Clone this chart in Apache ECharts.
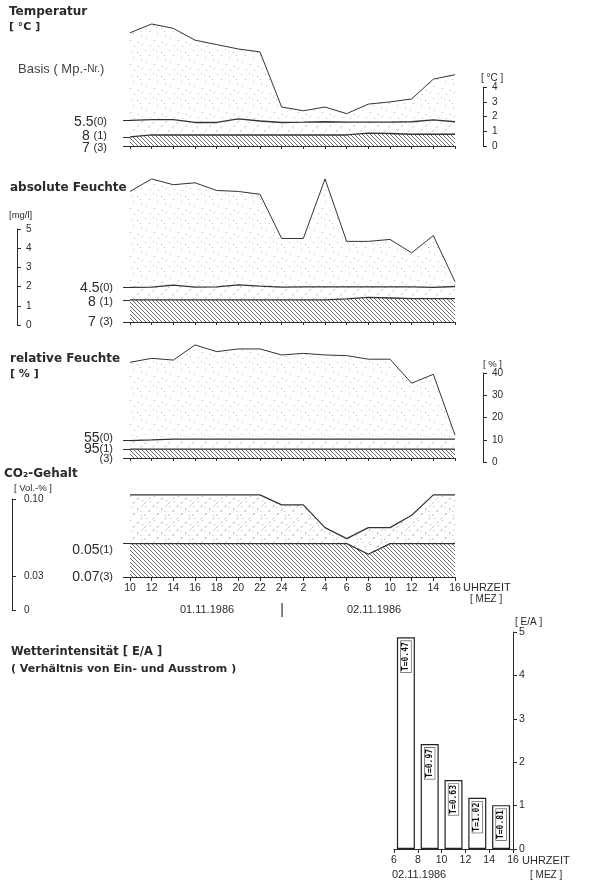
<!DOCTYPE html>
<html><head><meta charset="utf-8">
<script src="https://cdn.jsdelivr.net/npm/echarts@6/dist/echarts.min.js"></script>
<style>html,body{margin:0;padding:0;background:#fff}#c{width:589px;height:883px}</style>
</head><body><div id="c"></div>
<script>
// ---- data ----
const hours = ['10','12','14','16','18','20','22','24','2','4','6','8','10','12','14','16'];
// Temperatur [°C] (offsets above base point 7 (3))
const tempTop = [7.7, 8.3, 8.0, 7.2, 6.9, 6.6, 6.4, 2.65, 2.4, 2.65, 2.2, 2.85, 3.0, 3.2, 4.55, 4.85];
const tempL0  = [1.75, 1.8, 1.8, 1.6, 1.6, 1.85, 1.7, 1.6, 1.62, 1.65, 1.62, 1.62, 1.62, 1.65, 1.78, 1.65];
const tempL1  = [0.62, 0.75, 0.75, 0.75, 0.75, 0.75, 0.75, 0.75, 0.75, 0.75, 0.75, 0.88, 0.85, 0.8, 0.8, 0.8];
// absolute Feuchte [mg/l]
const humTop = [6.8, 7.45, 7.15, 7.25, 6.85, 6.8, 6.65, 4.35, 4.35, 7.45, 4.2, 4.2, 4.3, 3.6, 4.5, 2.1];
const humL0  = [1.8, 1.82, 1.92, 1.82, 1.83, 1.93, 1.87, 1.82, 1.83, 1.83, 1.83, 1.83, 1.83, 1.83, 1.8, 1.85];
const humL1  = [1.15, 1.15, 1.15, 1.15, 1.15, 1.15, 1.15, 1.15, 1.15, 1.15, 1.2, 1.28, 1.25, 1.22, 1.22, 1.22];
// relative Feuchte [%]
const rhTop = [43, 44.8, 44, 50.8, 47.8, 49, 49, 46.3, 47, 46.3, 46, 44.4, 44.4, 33.6, 37.6, 10.3];
const rhL0  = [7.8, 8.1, 8.5, 8.5, 8.5, 8.5, 8.5, 8.5, 8.5, 8.5, 8.5, 8.5, 8.5, 8.5, 8.5, 8.5];
const rhL1  = [4, 4, 4, 4, 4, 4, 4, 4, 4, 4, 4, 4, 4, 4, 4, 4];
// CO2-Gehalt [Vol.-%]
const co2Top = [0.104, 0.104, 0.104, 0.104, 0.104, 0.104, 0.104, 0.095, 0.095, 0.0745, 0.0646, 0.0745, 0.0745, 0.0856, 0.104, 0.104];
const co2L1  = [0.06, 0.06, 0.06, 0.06, 0.06, 0.06, 0.06, 0.06, 0.06, 0.06, 0.06, 0.0505, 0.06, 0.06, 0.06, 0.06];
const co2Base = 0.03;
// Wetterintensität E/A
const barX = [7, 9, 11, 13, 15];
const barVals = [4.88, 2.42, 1.59, 1.18, 1.01];
const barT = ['T=0.47', 'T=0.97', 'T=0.63', 'T=1.02', 'T=0.81'];

// ---- patterns ----
const DOT_TILE = [[1,2],[9,1],[17,4],[5,7],[13,9],[21,11],[2,14],[10,16],[18,18],[6,21],[14,22],[22,20],[20,7],[12,3]];
function pat(kind){
  const c = document.createElement('canvas');
  const s = kind === 'dense' ? 4 : 24;
  c.width = c.height = s;
  const g = c.getContext('2d');
  g.fillStyle = '#fff'; g.fillRect(0,0,s,s);
  if (kind === 'dense') {
    g.strokeStyle = '#5a5a5a'; g.lineWidth = 0.9;
    g.beginPath();
    g.moveTo(-1,-1); g.lineTo(s+1,s+1);
    g.moveTo(-1,s-1); g.lineTo(1,s+1);
    g.moveTo(s-1,-1); g.lineTo(s+1,1);
    g.stroke();
  }
  if (kind === 'dots' || kind === 'co2') {
    g.fillStyle = '#b8b8b8';
    DOT_TILE.forEach(p => g.fillRect(p[0],p[1],1,1));
  }
  if (kind === 'light' || kind === 'co2') {
    g.strokeStyle = '#b5b5b5'; g.lineWidth = 0.8;
    g.setLineDash([3,3]);
    g.beginPath(); g.moveTo(0,12); g.lineTo(12,0); g.moveTo(0,24); g.lineTo(24,0); g.moveTo(12,24); g.lineTo(24,12); g.stroke();
  }
  return {image: c, repeat: 'repeat'};
}
const P_DOTS = pat('dots'), P_LIGHT = pat('light'), P_DENSE = pat('dense'), P_CO2 = pat('co2');

const F = '"Liberation Sans", Arial, sans-serif';
const FB = '"DejaVu Sans", sans-serif';
const INK = '#2a2a2a';

// ---- grids ----
const X0 = 130, XW = 325;
const grids = [
  {left: X0, width: XW, top: 13.7, height: 132.3},   // 0 temp data
  {left: 483, width: 10, top: 87, height: 59},        // 1 temp axis
  {left: X0, width: XW, top: 168.4, height: 153.6},  // 2 hum data
  {left: 17, width: 10, top: 229, height: 96},        // 3 hum axis
  {left: X0, width: XW, top: 335.6, height: 122.4},  // 4 rh data
  {left: 483, width: 10, top: 373, height: 89},       // 5 rh axis
  {left: X0, width: XW, top: 488.2, height: 88.8},   // 6 co2 data
  {left: 12, width: 10, top: 499, height: 111},       // 7 co2 axis
  {left: 394, width: 119, top: 632, height: 217}      // 8 bars
];

function dataX(gi, labels){
  return {gridIndex: gi, type: 'category', data: hours, boundaryGap: false,
    axisLine: {lineStyle: {color: INK, width: 1.2}},
    axisTick: {show: true, length: labels ? 4 : 3, lineStyle: {color: INK}, interval: 0},
    axisLabel: {show: labels, interval: 0, fontFamily: F, fontSize: 10.5, color: INK, margin: 6},
    splitLine: {show: false}};
}
function dataY(gi, min, max, ticks){
  return {gridIndex: gi, type: 'value', min: min, max: max,
    axisLine: {show: false}, splitLine: {show: false}, axisLabel: {show: false},
    axisTick: {show: true, length: 7, customValues: ticks, lineStyle: {color: INK}}};
}
function hidX(gi){ return {gridIndex: gi, type: 'value', show: false, min: 0, max: 1}; }
function sideY(gi, min, max, interval, extra){
  return Object.assign({gridIndex: gi, type: 'value', position: 'left', min: min, max: max, interval: interval,
    axisLine: {show: true, lineStyle: {color: INK, width: 1}},
    axisTick: {show: true, inside: true, length: 4, lineStyle: {color: INK}},
    axisLabel: {inside: true, margin: 9, fontFamily: F, fontSize: 10, color: INK},
    splitLine: {show: false}}, extra || {});
}

const xAxes = [dataX(0,false), hidX(1), dataX(2,false), hidX(3), dataX(4,false), hidX(5), dataX(6,true), hidX(7),
  {gridIndex: 8, type: 'value', min: 6, max: 16, interval: 2,
   axisLine: {lineStyle: {color: INK, width: 1.2}}, axisTick: {length: 4, lineStyle: {color: INK}},
   axisLabel: {fontFamily: F, fontSize: 10.5, color: INK, margin: 6}, splitLine: {show: false}}];

const yAxes = [
  dataY(0, 0, 9, [0, tempL1[0], tempL0[0]]),
  sideY(1, 0, 4, 1),
  dataY(2, 0, 8, [0, humL1[0], humL0[0]]),
  sideY(3, 0, 5, 1),
  dataY(4, 0, 55, [0, rhL1[0], rhL0[0]]),
  sideY(5, 0, 40, 10),
  dataY(6, co2Base, 0.11, [co2Base, co2L1[0]]),
  sideY(7, 0, 0.1, 0.01, {
    axisTick: {show: true, inside: true, length: 4, customValues: [0, 0.03, 0.1], lineStyle: {color: INK}},
    axisLabel: {inside: true, margin: 12, fontFamily: F, fontSize: 10, color: INK, customValues: [0, 0.03, 0.1],
      formatter: v => v === 0 ? '0' : v.toFixed(2)}}),
  {gridIndex: 8, type: 'value', position: 'right', min: 0, max: 5, interval: 1,
   axisLine: {show: true, lineStyle: {color: INK, width: 1}},
   axisTick: {show: true, length: 4, lineStyle: {color: INK}},
   axisLabel: {fontFamily: F, fontSize: 10.5, color: INK, margin: 6}, splitLine: {show: false}}
];

function ln(gi, data, fill, w){
  return {type: 'line', xAxisIndex: gi, yAxisIndex: gi, data: data, symbol: 'none', silent: true,
    lineStyle: {color: '#333', width: w || 1}, areaStyle: {color: fill, opacity: 1, origin: 'start'}};
}
const series = [
  ln(0, tempTop, P_DOTS), ln(0, tempL0, P_LIGHT, 1.3), ln(0, tempL1, P_DENSE, 1.3),
  ln(2, humTop, P_DOTS), ln(2, humL0, P_LIGHT, 1.3), ln(2, humL1, P_DENSE, 1.3),
  ln(4, rhTop, P_DOTS), ln(4, rhL0, P_LIGHT, 1.3), ln(4, rhL1, P_DENSE, 1.3),
  ln(6, co2Top, P_CO2, 1.2), ln(6, co2L1, P_DENSE, 1.3),
  {type: 'bar', xAxisIndex: 8, yAxisIndex: 8, data: barX.map((x, i) => [x, barVals[i]]), barWidth: 18,
   itemStyle: {color: '#fff', borderColor: '#222', borderWidth: 1.2},
   label: {show: true, position: 'insideTop', distance: 4, rotate: 90, align: 'right', verticalAlign: 'middle',
     formatter: p => barT[p.dataIndex], fontFamily: '"DejaVu Sans Mono", monospace', fontWeight: 'bold', fontSize: 8,
     color: '#111', backgroundColor: '#fff', borderColor: '#444', borderWidth: 0.6, padding: [1, 1]}}
];

function T(text, x, y, font, align, extra){
  return {type: 'text', x: x, y: y, silent: true,
    style: Object.assign({text: text, font: font, fill: INK, textAlign: align || 'left', textVerticalAlign: 'middle'}, extra || {})};
}
function lev(main, sub, x, y){
  return {type: 'text', x: x, y: y, silent: true, style: {
    text: '{a|' + main + '}{b|' + sub + '}', textAlign: 'right', textVerticalAlign: 'middle', fill: INK,
    rich: {a: {fontFamily: F, fontSize: 14, fill: INK}, b: {fontFamily: F, fontSize: 11, fill: INK}}}};
}
const graphics = [
  T('Temperatur', 9, 12, 'bold 12px ' + FB),
  T('[ °C ]', 9, 27, 'bold 11px ' + FB),
  {type: 'text', x: 18, y: 69, silent: true, style: {text: '{a|Basis ( Mp.-}{b|Nr.}{a|)}', textVerticalAlign: 'middle',
    rich: {a: {fontFamily: F, fontSize: 13, fill: '#444'}, b: {fontFamily: F, fontSize: 10, fill: '#444'}}}},
  lev('5.5', '(0)', 107, 122), lev('8 ', '(1)', 107, 136), lev('7 ', '(3)', 107, 148),
  T('[ °C ]', 481, 78, '10px ' + F),
  T('absolute Feuchte', 10, 188, 'bold 12px ' + FB),
  T('[mg/l]', 9, 215, '9.5px ' + F),
  lev('4.5', '(0)', 113, 288), lev('8 ', '(1)', 113, 302), lev('7 ', '(3)', 113, 322),
  T('relative Feuchte', 10, 359, 'bold 12px ' + FB),
  T('[ % ]', 10, 374, 'bold 11px ' + FB),
  T('[ % ]', 483, 364, '9.5px ' + F),
  lev('55', '(0)', 113, 438), lev('95', '(1)', 113, 449), lev('', '(3)', 113, 459),
  T('"', 89, 453, '8px ' + F),
  T('CO₂-Gehalt', 4, 474, 'bold 12px ' + FB),
  T('[ Vol.-% ]', 14, 488, '9.5px ' + F),
  lev('0.05', '(1)', 113, 550), lev('0.07', '(3)', 113, 577),
  T('UHRZEIT', 463, 588, '11px ' + F),
  T('[ MEZ ]', 470, 599, '10px ' + F),
  T('01.11.1986', 207, 610, '11px ' + F, 'center'),
  T('|', 282, 610, '14px ' + F, 'center'),
  T('02.11.1986', 374, 610, '11px ' + F, 'center'),
  T('Wetterintensität [ E/A ]', 11, 652, 'bold 11.5px ' + FB),
  T('( Verhältnis von Ein- und Ausstrom )', 11, 669, 'bold 11px ' + FB),
  T('[ E/A ]', 515, 622, '10px ' + F),
  T('UHRZEIT', 522, 861, '11px ' + F),
  T('[ MEZ ]', 530, 875, '10px ' + F),
  T('02.11.1986', 392, 875, '11px ' + F)
];

const chart = echarts.init(document.getElementById('c'));
chart.setOption({
  animation: false,
  backgroundColor: '#fff',
  grid: grids, xAxis: xAxes, yAxis: yAxes, series: series,
  graphic: {elements: graphics}
});
</script>
</body></html>
